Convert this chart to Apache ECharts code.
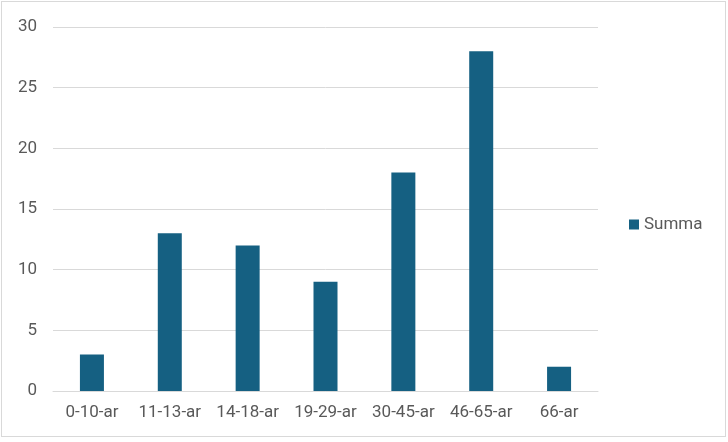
<!DOCTYPE html>
<html><head><meta charset="utf-8">
<script src="https://cdn.jsdelivr.net/npm/echarts@6/dist/echarts.min.js"></script>
<style>html,body{margin:0;padding:0;background:#fff}#c{width:728px;height:442px}
#frame{position:absolute;left:1px;top:1px;width:723px;height:434px;border:1px solid #d9d9d9;pointer-events:none}</style>
</head><body><div id="c"></div><div id="frame"></div>
<script>
const categories = ['0-10-ar','11-13-ar','14-18-ar','19-29-ar','30-45-ar','46-65-ar','66-ar'];
const summa = [3,13,12,9,18,28,2];
const chart = echarts.init(document.getElementById('c'));
const font = 'Roboto, "Liberation Sans", Arial, sans-serif';
chart.setOption({
  animation:false,
  textStyle:{fontFamily:font},
  grid:{left:53,right:130,top:27,bottom:51,containLabel:false},
  legend:{orient:'vertical',left:624,top:211,itemWidth:10,itemHeight:10,itemGap:8,
    icon:'rect',textStyle:{color:'#595959',fontSize:17,fontFamily:font},data:['Summa']},
  xAxis:{type:'category',data:categories,
    axisLine:{lineStyle:{color:'#d9d9d9',width:1}},axisTick:{show:false},
    axisLabel:{color:'#595959',fontSize:17,margin:13,fontFamily:font,interval:0}},
  yAxis:{type:'value',min:0,max:30,interval:5,
    axisLine:{show:false},axisTick:{show:false},
    splitLine:{lineStyle:{color:'#d9d9d9',width:1}},
    axisLabel:{color:'#595959',fontSize:17,margin:16,fontFamily:font}},
  series:[{name:'Summa',type:'bar',data:summa,barWidth:24,itemStyle:{color:'#156082'}}]
});
</script></body></html>
